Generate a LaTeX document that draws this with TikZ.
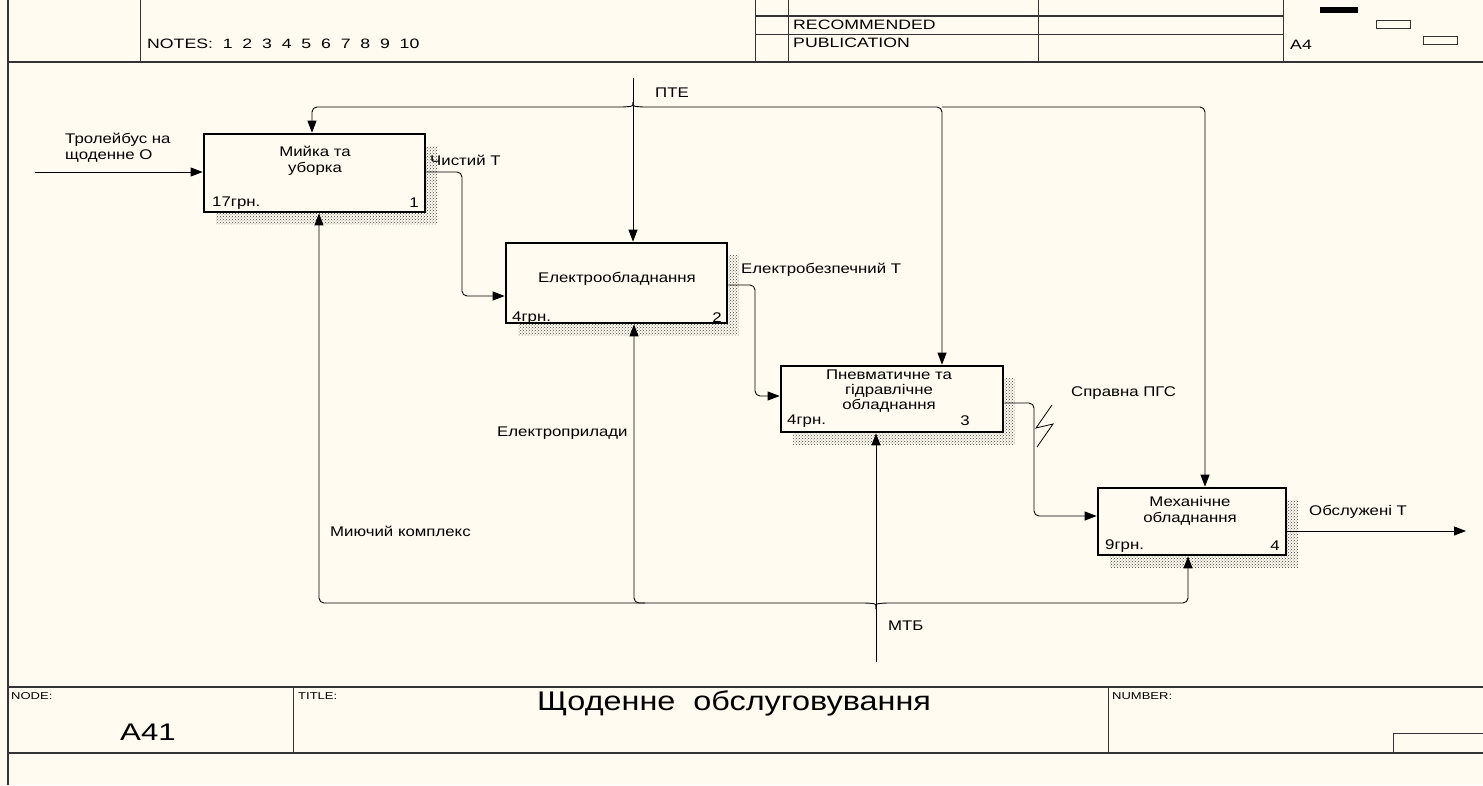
\documentclass[tikz,border=0pt]{standalone}
\usepackage{fontspec}
\setmainfont{Liberation Sans}
\newfontfamily\df[FakeStretch=1.2]{Liberation Sans}
\newfontfamily\hf[FakeStretch=1.3]{Liberation Sans}
\usetikzlibrary{arrows.meta,patterns,shadows}
\definecolor{bg}{RGB}{255,251,240}
\begin{document}
\begin{tikzpicture}[x=1pt,y=-1pt,
  frame/.style={line width=1.2pt, draw=black!80},
  thin/.style={line width=0.8pt, draw=black!80},
  proc/.style={draw, line width=2.7pt, fill=bg, inner sep=0pt,
    drop shadow={shadow xshift=12pt, shadow yshift=-12pt, opacity=1,
      pattern=crosshatch dots, pattern color=black!75}},
  conn/.style={line width=0.9pt, rounded corners=5pt},
  arr/.style={conn, -{Triangle[length=12pt,width=9pt]}},
  lbl/.style={font=\df\fontsize{14}{16}\selectfont, inner sep=0pt, align=left},
  ctr/.style={font=\df\fontsize{14}{15.5}\selectfont, inner sep=0pt, align=center},
  hdr/.style={font=\hf\fontsize{13.6}{15}\selectfont, inner sep=0pt, anchor=west},
  small/.style={font=\hf\fontsize{10}{11}\selectfont, inner sep=0pt, anchor=north west}]
\fill[bg] (0,0) rectangle (1483,785);
\useasboundingbox (0,0) rectangle (1483,785);

% ---- frame / header ----
\draw[frame] (8,0) -- (8,785);
\draw[frame] (8,62) -- (1483,62);
\draw[thin] (140,0) -- (140,62);
\draw[thin] (755,0) -- (755,62);
\draw[thin] (788,0) -- (788,62);
\draw[thin] (1038,0) -- (1038,62);
\draw[thin] (1283,0) -- (1283,62);
\draw[frame] (755,16) -- (1283,16);
\draw[thin] (755,34) -- (1283,34);
\node[hdr] (notes) at (147,44) {NOTES:\ \ 1\ \ 2\ \ 3\ \ 4\ \ 5\ \ 6\ \ 7\ \ 8\ \ 9\ \ 10};
\node[hdr] (rec) at (793,25) {RECOMMENDED};
\node[hdr] (pub) at (793,43) {PUBLICATION};
\node[hdr] (a4) at (1290,45) {A4};
\fill[black] (1320,7) rectangle (1358,13);
\draw[thin] (1376,20) rectangle (1410,28);
\draw[thin] (1423,36) rectangle (1457,44);

% ---- bottom block ----
\draw[frame] (8,687) -- (1483,687);
\draw[frame] (8,753) -- (1483,753);
\draw[thin] (293,687) -- (293,753);
\draw[thin] (1108,687) -- (1108,753);
\draw[thin] (1393,753) -- (1393,733) -- (1483,733);
\node[small] (nodelbl) at (11,692) {NODE:};
\node[small] (titlelbl) at (298,692) {TITLE:};
\node[small] (numlbl) at (1112,692) {NUMBER:};
\node[font=\hf\fontsize{24}{26}\selectfont, inner sep=0pt] (a41) at (148,732) {A41};
\node[font=\df\fontsize{27}{29}\selectfont, inner sep=0pt] (title) at (734,703) {Щоденне\ \ обслуговування};

% ---- activity boxes ----
\node[proc, minimum width=221pt, minimum height=78pt] (b1) at (314.5,173) {};
\node[proc, minimum width=221pt, minimum height=80pt] (b2) at (616.5,283) {};
\node[proc, minimum width=222pt, minimum height=66pt] (b3) at (892,399) {};
\node[proc, minimum width=188pt, minimum height=67pt] (b4) at (1192,521.5) {};

\node[ctr] (t1) at (315,161) {Мийка та\\уборка};
\node[ctr] (t2) at (617,279) {Електрообладнання};
\node[ctr, font=\df\fontsize{14}{15}\selectfont] (t3) at (889,391) {Пневматичне та\\гідравлічне\\обладнання};
\node[ctr] (t4) at (1190,511) {Механічне\\обладнання};

\node[lbl, anchor=west] (c1) at (212,203) {17грн.};
\node[lbl, anchor=east] (n1) at (419,203) {1};
\node[lbl, anchor=west] (c2) at (512,318) {4грн.};
\node[lbl, anchor=east] (n2) at (722,318) {2};
\node[lbl, anchor=west] (c3) at (787,421) {4грн.};
\node[lbl, anchor=east] (n3) at (970,421) {3};
\node[lbl, anchor=west] (c4) at (1105,546) {9грн.};
\node[lbl, anchor=east] (n4) at (1280,546) {4};

% ---- coordinates ----
\coordinate (inL) at (35,172);
\coordinate (outR) at (1466,531);
\coordinate (pteTop) at (633,78);
\coordinate (pteJ) at (633,102);
\coordinate (mtbBot) at (876,662);
\coordinate (mtbJ) at (876,609);
\coordinate (pL) at (312,107);
\coordinate (pM) at (942,107);
\coordinate (pR) at (1205,107);
\coordinate (mL) at (319,603);
\coordinate (mM) at (634,603);
\coordinate (mR) at (1188,603);

% ---- inputs / outputs ----
\draw[arr] (inL) -- (inL -| b1.west);
\draw[arr] (b1.east |- 0,172) -- (462,172) -- (462,296) -- (b2.west |- 0,296);
\draw[arr] (b2.east |- 0,285) -- (755,285) -- (755,396) -- (b3.west |- 0,396);
\draw[arr] (b3.east |- 0,403) -- (1034,403) -- (1034,516) -- (b4.west |- 0,516);
\draw[arr] (b4.east |- 0,531) -- (outR);
% squiggle on ПГС arrow
\draw[line width=0.8pt] (1052,405) -- (1036,428) -- (1053,424) -- (1037,447);

% ---- controls ----
\draw[arr] (pteTop) -- (pteTop |- b2.north);
\draw[arr] (pteJ) .. controls (633,106) .. (626,107) -- (pL) -- (pL |- b1.north);
\draw[arr] (pteJ) .. controls (633,106) .. (640,107) -- (pM) -- (pM |- b3.north);
\draw[arr] (pM) -- (pR) -- (pR |- b4.north);

% ---- mechanisms ----
\draw[arr] (mtbBot) -- (mtbBot |- b3.south);
\draw[arr] (mtbJ) .. controls (876,604) .. (869,603) -- (mL) -- (mL |- b1.south);
\draw[arr] (645,603) -- (mM) -- (mM |- b2.south);
\draw[arr] (mtbJ) .. controls (876,604) .. (883,603) -- (mR) -- (mR |- b4.south);

% ---- arrow labels ----
\node[lbl, anchor=north west] (lin) at (65,133) {Тролейбус на\\щоденне О};
\node[lbl, anchor=west] (l1) at (430,160) {Чистий Т};
\node[lbl, anchor=west] (l2) at (741,270) {Електробезпечний Т};
\node[lbl, anchor=west] (l3) at (1071,393) {Справна ПГС};
\node[lbl, anchor=west] (l4) at (1309,512) {Обслужені Т};
\node[lbl, anchor=west] (lpte) at (655,93) {ПТЕ};
\node[lbl, anchor=west] (lm1) at (330,531) {Миючий комплекс};
\node[lbl, anchor=west] (lm2) at (497,433) {Електроприлади};
\node[lbl, anchor=west] (lm3) at (888,626) {МТБ};
\end{tikzpicture}
\end{document}
